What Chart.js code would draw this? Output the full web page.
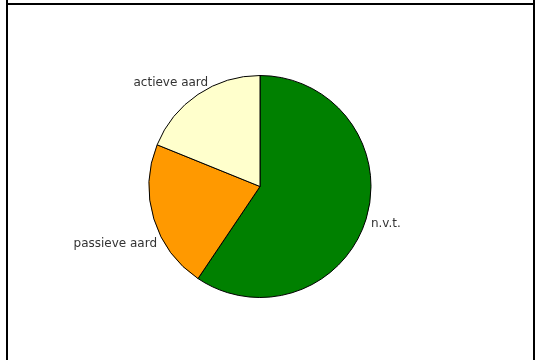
<!DOCTYPE html>
<html>
<head>
<meta charset="utf-8">
<script src="https://cdn.jsdelivr.net/npm/chart.js@4"></script>
<style>
  html, body { margin: 0; padding: 0; background: #fff; overflow: hidden; }
  #wrap { position: relative; width: 536px; height: 360px; }
</style>
</head>
<body>
<div id="wrap"><canvas id="pie" width="536" height="360"></canvas></div>
<script>
// (slice angles)
const categories = ["n.v.t.", "passieve aard", "actieve aard"];
const counts = [63, 23, 20];
const sliceColors = ["#008000", "#ff9900", "#ffffcc"];

// frame around the chart, like the original table cell
const framePlugin = {
  id: "frame",
  beforeDraw(chart) {
    const ctx = chart.ctx;
    ctx.save();
    ctx.fillStyle = "#fff";
    ctx.fillRect(0, 0, chart.width, chart.height);
    ctx.fillStyle = "#000";
    ctx.fillRect(6, 0, 2, chart.height);
    ctx.fillRect(533, 0, 2, chart.height);
    ctx.fillRect(6, 3, 529, 2);
    ctx.restore();
  }
};

// category names placed next to their slice
const sliceLabels = {
  id: "sliceLabels",
  afterDatasetsDraw(chart, args, opts) {
    const ctx = chart.ctx;
    const arcs = chart.getDatasetMeta(0).data;
    ctx.save();
    ctx.font = "12px 'DejaVu Sans', Verdana, sans-serif";
    ctx.fillStyle = "#333";
    ctx.textBaseline = "alphabetic";
    arcs.forEach((arc, i) => {
      const mid = (arc.startAngle + arc.endAngle) / 2;
      const r = arc.outerRadius + 5;
      const shift = opts.shift[i] || [0, 0];
      const x = arc.x + Math.cos(mid) * r + shift[0];
      const y = arc.y + Math.sin(mid) * r + shift[1];
      ctx.textAlign = Math.cos(mid) >= 0 ? "left" : "right";
      ctx.fillText(chart.data.labels[i], x, y + 7);
    });
    ctx.restore();
  }
};

new Chart(document.getElementById("pie"), {
  type: "pie",
  data: {
    labels: categories,
    datasets: [
      {
        data: counts,
        backgroundColor: sliceColors,
        borderColor: "#000",
        borderWidth: 1,
      },
    ],
  },
  options: {
    responsive: false,
    animation: false,
    layout: { padding: { top: 75, bottom: 62, left: 0, right: 16 } },
    plugins: {
      legend: { display: false },
      tooltip: { enabled: false },
      sliceLabels: { shift: [[0, 0], [8, 20], [13, -11]] },
    },
  },
  plugins: [framePlugin, sliceLabels],
});
</script>
</body>
</html>
